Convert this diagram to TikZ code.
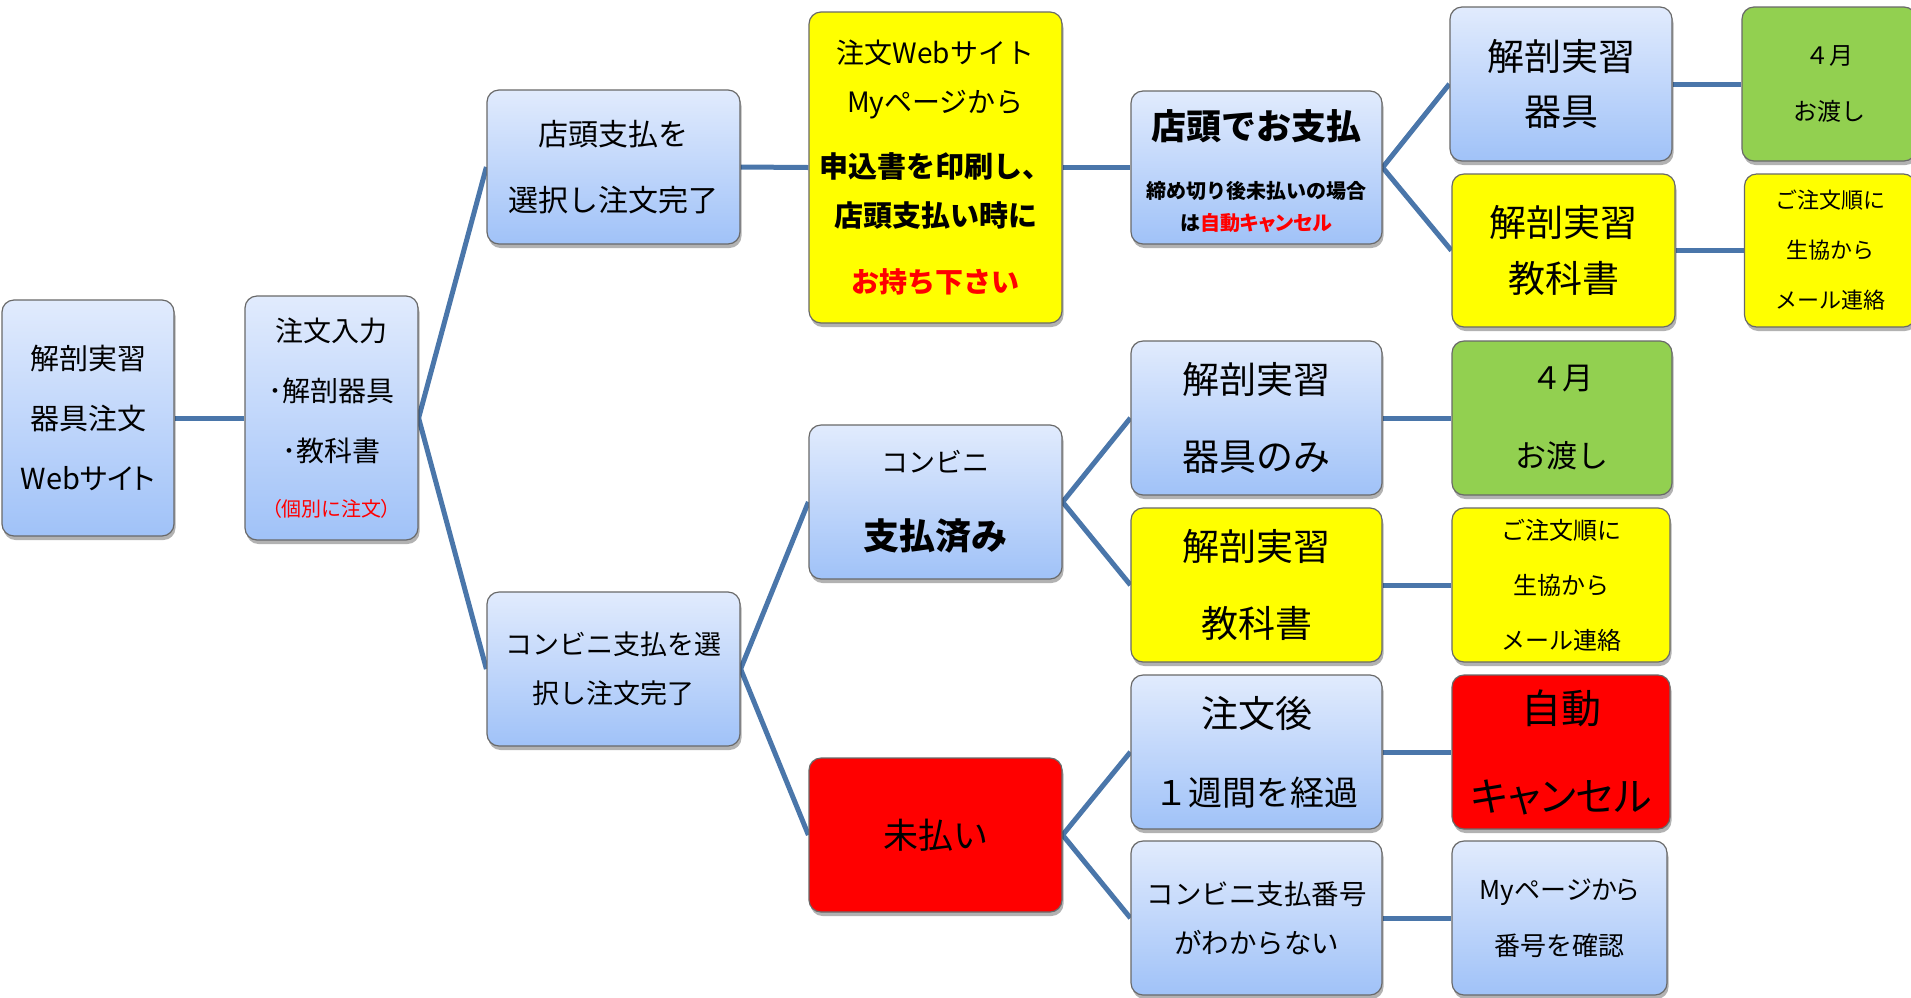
\documentclass[tikz,border=0pt]{standalone}
\usepackage{fontspec}
\setmainfont{Noto Sans CJK JP}
\newfontfamily\pjp{Noto Sans CJK JP}[RawFeature=+palt]
\usetikzlibrary{shadows}
\pgfdeclarelayer{bg}
\pgfsetlayers{bg,main}
\definecolor{lnc}{RGB}{74,118,170}
\definecolor{btop}{RGB}{225,235,253}
\definecolor{bbot}{RGB}{160,194,248}
\definecolor{yel}{RGB}{255,255,0}
\definecolor{grn}{RGB}{146,208,80}
\definecolor{rd}{RGB}{255,0,0}
\definecolor{bord}{RGB}{105,105,105}
\tikzset{
  base/.style={draw=bord, line width=1.2pt, rounded corners=12pt, align=center, inner sep=0pt,
    drop shadow={shadow xshift=1.5pt, shadow yshift=-4pt, opacity=0.3, fill=black}},
  bluebox/.style={base, top color=btop, bottom color=bbot},
  yelbox/.style={base, fill=yel},
  grnbox/.style={base, fill=grn},
  redbox/.style={base, fill=rd},
  conn/.style={draw=lnc, line width=5pt},
  sz/.style 2 args={font=\fontsize{#1}{#2}\selectfont},
  wh/.style 2 args={minimum width=#1pt, minimum height=#2pt},
}
\begin{document}
\begin{tikzpicture}[x=1pt,y=-1pt]
\useasboundingbox (0,0) rectangle (1911,997);
\node[bluebox, wh={172}{236}, sz={29}{60}] (A) at (88,418) {解剖実習\\器具注文\\{\pjp Webサイト}};
\node[bluebox, wh={173}{244}, sz={28}{60}] (B) at (331.5,418) {注文入力\\･解剖器具\\･教科書\\[-5pt]{\color{rd}\fontsize{20}{20}\selectfont\pjp （個別に注文）}};
\node[bluebox, wh={253}{154}, sz={30}{66}] (C) at (613.5,167) {店頭支払を\\選択し注文完了};
\node[yelbox, wh={253}{311}, sz={28}{49}] (D) at (935.5,167.5) {注文Webサイト\\Myページから\\[16pt]{\fontsize{29}{49}\selectfont\bfseries 申込書を印刷し、}\\{\fontsize{29}{49}\selectfont\bfseries 店頭支払い時に}\\[17pt]{\fontsize{28}{49}\selectfont\bfseries\color{rd}お持ち下さい}};
\node[bluebox, wh={251}{153}, sz={20}{32}] (E) at (1256.5,167.5) {{\fontsize{35}{35}\selectfont\bfseries\rule{0pt}{37pt}店頭でお支払}\\[27pt]{\bfseries 締め切り後未払いの場合}\\{\pjp\bfseries は\textcolor{rd}{自動キャンセル}}};
\node[bluebox, wh={222}{154}, sz={37}{55}] (F) at (1561,84) {解剖実習\\器具};
\node[grnbox, wh={174}{154}, sz={24}{56}] (G) at (1829,84) {４月\\お渡し};
\node[yelbox, wh={223}{153}, sz={37}{56}] (H) at (1563.5,250.5) {解剖実習\\教科書};
\node[yelbox, wh={171}{153}, sz={22}{50}] (I) at (1830,250.5) {ご注文順に\\生協から\\メール連絡};
\node[bluebox, wh={253}{154}, sz={27}{49}] (J) at (613.5,669) {コンビニ支払を選\\択し注文完了};
\node[bluebox, wh={253}{154}, sz={27}{77}] (K) at (935.5,502) {コンビニ\\{\fontsize{36}{36}\selectfont\bfseries 支払済み}};
\node[redbox, wh={253}{154}, sz={35}{40}] (L) at (935.5,835) {未払い};
\node[bluebox, wh={251}{154}, sz={37}{77}] (M) at (1256.5,418) {解剖実習\\器具のみ};
\node[yelbox, wh={251}{154}, sz={37}{77}] (N) at (1256.5,585) {解剖実習\\教科書};
\node[bluebox, wh={251}{154}, sz={37}{78}] (O) at (1256.5,752) {注文後\\{\fontsize{34}{34}\selectfont １週間を経過}};
\node[bluebox, wh={251}{154}, sz={27.5}{49}] (P) at (1256.5,918) {コンビニ支払番号\\がわからない};
\node[grnbox, wh={220}{154}, sz={31}{78}] (Q) at (1562,418) {４月\\お渡し};
\node[yelbox, wh={218}{154}, sz={24}{55}] (R) at (1561,585) {ご注文順に\\生協から\\メール連絡};
\node[redbox, wh={218}{154}, sz={40}{88}] (S) at (1561,752) {自動\\{\pjp キャンセル}};
\node[bluebox, wh={215}{154}, sz={26}{56}] (T) at (1559.5,918) {{\pjp Myページから}\\番号を確認};
\begin{pgfonlayer}{bg}
\draw[conn] (A.east) -- (B.west);
\draw[conn] (B.east) -- (C.west);
\draw[conn] (B.east) -- (J.west);
\draw[conn] (C.east) -- (D.west);
\draw[conn] (D.east) -- (E.west);
\draw[conn] (E.east) -- (F.west);
\draw[conn] (E.east) -- (H.west);
\draw[conn] (F.east) -- (G.west);
\draw[conn] (H.east) -- (I.west);
\draw[conn] (J.east) -- (K.west);
\draw[conn] (J.east) -- (L.west);
\draw[conn] (K.east) -- (M.west);
\draw[conn] (K.east) -- (N.west);
\draw[conn] (L.east) -- (O.west);
\draw[conn] (L.east) -- (P.west);
\draw[conn] (M.east) -- (Q.west);
\draw[conn] (N.east) -- (R.west);
\draw[conn] (O.east) -- (S.west);
\draw[conn] (P.east) -- (T.west);
\end{pgfonlayer}
\end{tikzpicture}
\end{document}
